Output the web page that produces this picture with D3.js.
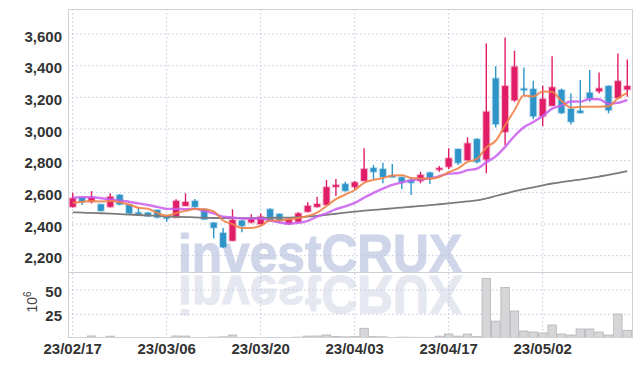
<!DOCTYPE html>
<html lang="en">
<head>
<meta charset="UTF-8">
<title>Candlestick chart</title>
<script src="https://d3js.org/d3.v7.min.js"></script>
<style>
  body { margin: 0; background: #fff; font-family: "Liberation Sans Narrow", "Liberation Sans", Arial, sans-serif; }
  svg { display: block; }
  .lbl { font-size: 15px; font-weight: bold; fill: #333; }
  .grid line { stroke: #bfc6db; stroke-width: 1; stroke-dasharray: 1.5, 2.5; }
  .frame { stroke: #cfd0d8; stroke-width: 1; fill: none; }
</style>
</head>
<body>
<svg id="chart" width="642" height="366"></svg>
<script>
// trading days (yy/mm/dd)
const dates = ["23/02/17","23/02/20","23/02/21","23/02/22","23/02/23","23/02/24","23/02/27","23/02/28","23/03/02","23/03/03",
  "23/03/06","23/03/07","23/03/08","23/03/09","23/03/10","23/03/13","23/03/14","23/03/15","23/03/16","23/03/17",
  "23/03/20","23/03/21","23/03/22","23/03/23","23/03/24","23/03/27","23/03/28","23/03/29","23/03/30","23/03/31",
  "23/04/03","23/04/04","23/04/05","23/04/06","23/04/07","23/04/10","23/04/11","23/04/12","23/04/13","23/04/14",
  "23/04/17","23/04/18","23/04/19","23/04/20","23/04/21","23/04/24","23/04/25","23/04/26","23/04/27","23/04/28",
  "23/05/02","23/05/03","23/05/04","23/05/08","23/05/09","23/05/10","23/05/11","23/05/12","23/05/15","23/05/16"];

const open  = [2509,2568,2541,2524,2509,2583,2520,2472,2471,2488, 2445,2442,2515,2545,2493,2408,2343,2295,2421,2411,
               2400,2493,2463,2400,2415,2478,2509,2522,2635,2652, 2635,2673,2753,2747,2705,2695,2678,2673,2724,2749,
               2762,2873,2804,2936,2808,3319,2982,3182,3255,3252, 3081,3147,3246,3126,3115,3229,3239,3271,3197,3250];
const high  = [2597,2572,2608,2527,2594,2589,2525,2505,2475,2490, 2450,2556,2594,2558,2499,2412,2375,2493,2425,2461,
               2467,2499,2466,2435,2474,2537,2572,2678,2684,2667, 2671,2878,2772,2787,2779,2698,2695,2730,2730,2766,
               2878,2876,2947,2941,3540,3397,3578,3494,3389,3304, 3273,3460,3256,3225,3309,3372,3357,3275,3477,3439];
const low   = [2505,2520,2531,2480,2505,2520,2465,2465,2448,2436, 2415,2440,2513,2505,2428,2310,2249,2293,2348,2405,
               2398,2415,2404,2395,2412,2475,2505,2520,2577,2605, 2621,2671,2682,2657,2695,2621,2583,2657,2652,2730,
               2747,2772,2800,2783,2720,3010,2898,3172,3214,3061, 3018,3145,3094,3029,3100,3172,3225,3099,3189,3203];
const close = [2562,2541,2568,2484,2572,2524,2467,2466,2450,2442, 2440,2545,2539,2509,2430,2377,2255,2425,2389,2430,
               2446,2421,2425,2430,2467,2514,2526,2632,2646,2610, 2663,2747,2730,2698,2698,2667,2661,2709,2695,2753,
               2815,2787,2909,2793,3109,3031,3271,3393,3250,3081, 3189,3263,3102,3046,3102,3193,3256,3119,3302,3271];

// volume, millions of shares
const volume = [1.2,1.0,2.7,1.0,2.5,1.0,0.8,0.7,0.8,0.9, 1.0,2.7,2.6,1.0,1.2,1.5,1.8,3.7,1.2,0.9,
                1.0,1.0,0.8,1.0,1.5,2.6,2.7,3.7,2.2,1.8, 2.0,10.6,2.0,1.8,1.2,1.5,1.4,1.3,1.0,2.5,
                4.7,2.5,4.7,2.0,62,18,52.7,28.4,7.8,6.8, 5.8,14,4.7,3.7,9.9,9.9,6.8,3.7,25.3,8.5];

// moving averages
const ma5  = [2534,2540,2545,2543,2545,2538,2523,2503,2496,2470, 2453,2469,2483,2495,2493,2480,2422,2399,2375,2375,
              2389,2422,2422,2430,2438,2451,2472,2514,2557,2586, 2615,2660,2679,2690,2707,2708,2691,2687,2686,2697,
              2727,2752,2792,2811,2883,2926,3023,3119,3211,3205, 3237,3235,3177,3136,3140,3141,3140,3143,3194,3228];
const ma10 = [2566,2570,2570,2563,2556,2548,2541,2530,2520,2508, 2496,2496,2493,2496,2482,2467,2446,2441,2435,2434,
              2435,2422,2411,2403,2407,2420,2447,2468,2494,2512, 2533,2566,2597,2624,2647,2662,2676,2683,2688,2702,
              2718,2722,2740,2749,2790,2827,2887,2956,3011,3044, 3082,3129,3148,3174,3173,3189,3188,3160,3165,3184];
const ma60 = [2474,2472,2470,2468,2466,2463,2460,2457,2454,2451, 2448,2446,2444,2442,2440,2438,2437,2437,2437,2437,
              2438,2439,2440,2441,2443,2447,2452,2458,2465,2472, 2478,2484,2489,2494,2499,2504,2509,2514,2519,2525,
              2531,2537,2543,2549,2562,2577,2592,2607,2620,2632, 2644,2656,2665,2673,2681,2690,2700,2710,2722,2734];

const priceTicks = [2200, 2400, 2600, 2800, 3000, 3200, 3400, 3600];
const volTicks = [25, 50];
const dateTicks = ["23/02/17", "23/03/06", "23/03/20", "23/04/03", "23/04/17", "23/05/02"];

// layout
const plotLeft = 68, plotRight = 632, plotTop = 9, priceBottom = 272, volBottom = 337;
const upColor = "#e21d68", downColor = "#2f95c9";

const svg = d3.select("#chart");

const x = d3.scaleBand().domain(dates).range([plotLeft, plotRight]).padding(0);
const cx = d => x(d) + x.bandwidth() / 2;
const y = d3.scaleLinear().domain([2200, 3600]).range([255.7, 34]);
const yv = d3.scaleLinear().domain([0, 50]).range([338.6, 290]);

const defs = svg.append("defs");
defs.append("clipPath").attr("id", "clipPrice")
  .append("rect").attr("x", plotLeft).attr("y", plotTop).attr("width", plotRight - plotLeft).attr("height", priceBottom - plotTop);
defs.append("clipPath").attr("id", "clipVol")
  .append("rect").attr("x", plotLeft).attr("y", priceBottom).attr("width", plotRight - plotLeft).attr("height", volBottom - priceBottom);

// watermark, with its mirror image below the baseline
svg.append("g").attr("fill", "#d0d6ea").attr("stroke", "#d0d6ea").attr("stroke-width", 1.2)
  .append("text")
  .attr("id", "wm")
  .attr("x", 320).attr("y", 272)
  .attr("text-anchor", "middle")
  .attr("textLength", 284).attr("lengthAdjust", "spacingAndGlyphs")
  .style("font-family", "'Liberation Sans', Arial, sans-serif")
  .style("font-weight", "bold").style("font-size", "54px")
  .text("investCRUX");
svg.append("use")
  .attr("href", "#wm")
  .attr("transform", "translate(0,548) scale(1,-1)")
  .attr("fill", "#e6e8f1").attr("stroke", "#e6e8f1").attr("stroke-width", 1.2);

// grid
const grid = svg.append("g").attr("class", "grid");
grid.selectAll(".hp").data(priceTicks).join("line")
  .attr("class", "hp")
  .attr("x1", plotLeft).attr("x2", plotRight)
  .attr("y1", d => y(d)).attr("y2", d => y(d));
grid.selectAll(".hv").data(volTicks).join("line")
  .attr("class", "hv")
  .attr("x1", plotLeft).attr("x2", plotRight)
  .attr("y1", d => yv(d)).attr("y2", d => yv(d));
grid.selectAll(".vx").data(dateTicks).join("line")
  .attr("class", "vx")
  .attr("x1", d => cx(d)).attr("x2", d => cx(d))
  .attr("y1", plotTop).attr("y2", volBottom);

// volume bars
svg.append("g").attr("clip-path", "url(#clipVol)")
  .selectAll("rect").data(dates).join("rect")
  .attr("x", d => x(d) + 0.5)
  .attr("width", x.bandwidth() - 1)
  .attr("y", (d, i) => yv(volume[i]))
  .attr("height", (d, i) => Math.max(0, yv(0) - yv(volume[i])))
  .attr("fill", "#d6d6d8")
  .attr("stroke", "#b4b4b8")
  .attr("stroke-width", 0.8);

// candles
const candles = svg.append("g").attr("clip-path", "url(#clipPrice)")
  .selectAll("g").data(dates).join("g");
candles.append("line")
  .attr("x1", d => cx(d)).attr("x2", d => cx(d))
  .attr("y1", (d, i) => y(high[i])).attr("y2", (d, i) => y(low[i]))
  .attr("stroke", (d, i) => close[i] >= open[i] ? upColor : downColor)
  .attr("stroke-width", 1.4);
candles.append("rect")
  .attr("x", d => cx(d) - 3)
  .attr("width", 6)
  .attr("y", (d, i) => Math.min(y(open[i]), y(close[i])))
  .attr("height", (d, i) => Math.max(1.5, Math.abs(y(open[i]) - y(close[i]))))
  .attr("fill", (d, i) => close[i] >= open[i] ? upColor : downColor)
  .attr("stroke", (d, i) => close[i] >= open[i] ? upColor : downColor)
  .attr("stroke-opacity", 0.3)
  .attr("stroke-width", 2);

// moving average lines
const maLine = arr => d3.line()
  .x(d => cx(d))
  .y((d, i) => y(arr[i]))
  .curve(d3.curveMonotoneX)(dates);

const lines = svg.append("g").attr("clip-path", "url(#clipPrice)").attr("fill", "none");
lines.append("path").attr("d", maLine(ma60)).attr("stroke", "#7b7b7b").attr("stroke-width", 1.8);
lines.append("path").attr("d", maLine(ma10)).attr("stroke", "#c95cec").attr("stroke-width", 2.4).attr("stroke-opacity", 0.85);
lines.append("path").attr("d", maLine(ma5)).attr("stroke", "#ef8248").attr("stroke-width", 2).attr("stroke-opacity", 0.9);

// frame
svg.append("rect").attr("class", "frame")
  .attr("x", plotLeft + 0.5).attr("y", plotTop + 0.5)
  .attr("width", plotRight - plotLeft).attr("height", volBottom - plotTop);
svg.append("line").attr("class", "frame")
  .attr("x1", plotLeft).attr("x2", plotRight).attr("y1", priceBottom + 0.5).attr("y2", priceBottom + 0.5);

// y labels
svg.selectAll(".py").data(priceTicks).join("text")
  .attr("class", "lbl")
  .attr("x", 62).attr("y", d => y(d) + 7.5)
  .attr("text-anchor", "end")
  .text(d3.format(","));
svg.selectAll(".vy").data(volTicks).join("text")
  .attr("class", "lbl")
  .attr("x", 62).attr("y", d => yv(d) + 6.5)
  .attr("text-anchor", "end")
  .text(d => d);

// unit label
const unit = svg.append("text")
  .attr("transform", "translate(37,302) rotate(-90)")
  .attr("text-anchor", "middle")
  .style("font-size", "14px").attr("fill", "#444");
unit.append("tspan").text("10");
unit.append("tspan").attr("dy", -6).style("font-size", "10px").text("6");

// x labels
svg.selectAll(".xl").data(dateTicks).join("text")
  .attr("class", "lbl")
  .attr("x", d => cx(d)).attr("y", 354)
  .attr("text-anchor", "middle")
  .text(d => d);
</script>
</body>
</html>
